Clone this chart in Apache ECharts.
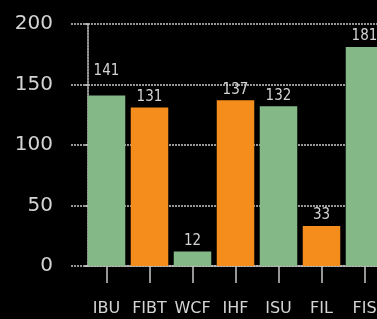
<!DOCTYPE html>
<html>
<head>
<meta charset="utf-8">
<script src="https://cdn.jsdelivr.net/npm/echarts@6/dist/echarts.min.js"></script>
<style>
html,body{margin:0;padding:0;background:#000;overflow:hidden;}
#c{width:386px;height:319px;}
</style>
</head>
<body>
<div id="c"></div>
<script>
var categories = ['IBU', 'FIBT', 'WCF', 'IHF', 'ISU', 'FIL', 'FIS'];
var values = [141, 131, 12, 137, 132, 33, 181];
var yTicks = [0, 50, 100, 150, 200];

var GREEN = '#85b887';
var ORANGE = '#f48d1c';
var TEXT = '#d4d4d4';
var GRIDC = '#c8c8c8';

var chart = echarts.init(document.getElementById('c'), null, {renderer: 'canvas'});
chart.setOption({
  backgroundColor: '#000',
  animation: false,
  grid: {left: 85, right: 0, top: 24, bottom: 53, containLabel: false},
  xAxis: {
    type: 'category',
    data: categories,
    axisLine: {show: true, lineStyle: {color: GRIDC, width: 1.5, type: [2, 1]}},
    axisTick: {show: true, alignWithLabel: true, length: 17, lineStyle: {color: GRIDC, width: 1.5}},
    axisLabel: {color: TEXT, fontSize: 16, fontFamily: 'DejaVu Sans', margin: 35, interval: 0}
  },
  yAxis: {
    type: 'value',
    min: yTicks[0],
    max: yTicks[yTicks.length - 1],
    interval: 50,
    offset: -3,
    axisLine: {show: true, lineStyle: {color: GRIDC, width: 1.5, type: [2, 1]}},
    axisTick: {show: true, length: 17, lineStyle: {color: GRIDC, width: 1.5, type: [2, 1]}},
    axisLabel: {color: TEXT, fontSize: 20, fontFamily: 'DejaVu Sans', margin: 35},
    splitLine: {show: true, lineStyle: {color: GRIDC, width: 1.5, type: [2, 1]}}
  },
  series: [{
    type: 'bar',
    data: values.map(function (v, i) {
      return {
        value: v,
        itemStyle: {color: i % 2 === 0 ? GREEN : ORANGE},
        label: {distance: i === 0 ? 17 : 3}
      };
    }),
    barWidth: 37.5,
    label: {
      show: true,
      position: 'top',
      color: TEXT,
      fontSize: 15,
      fontFamily: 'DejaVu Sans Condensed'
    }
  }]
});
</script>
</body>
</html>
